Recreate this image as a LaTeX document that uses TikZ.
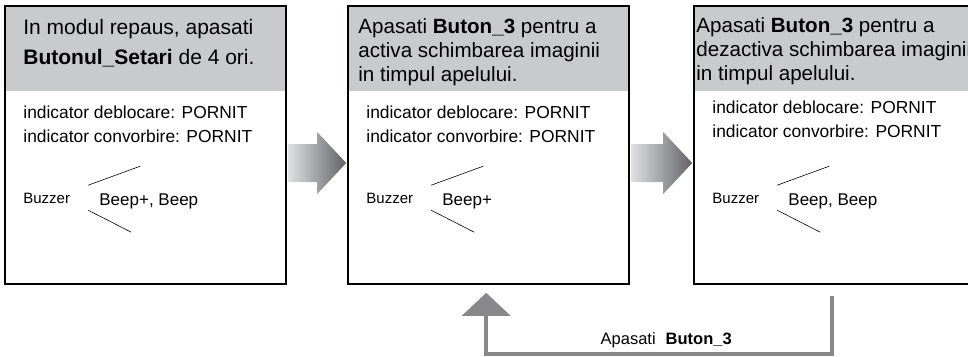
\documentclass[tikz,border=0pt]{standalone}
\usepackage{fontspec}
\setmainfont{Liberation Sans}
\usetikzlibrary{calc,arrows.meta}
\definecolor{hdrgray}{RGB}{200,202,204}
\definecolor{flowlight}{RGB}{224,225,227}
\definecolor{flowdark}{RGB}{98,98,102}
\definecolor{backgray}{RGB}{136,136,138}
\tikzset{
  panel/.style={draw=black, line width=1.6pt, minimum width=281pt, minimum height=278pt, inner sep=0pt,
    path picture={\fill[hdrgray] (path picture bounding box.north west) rectangle ([yshift=-85pt]path picture bounding box.north east);}},
  head/.style={anchor=north west, inner sep=0pt, align=left, font=\fontsize{20.6}{24}\selectfont},
  status/.style={anchor=north west, inner sep=0pt, align=left, font=\fontsize{17.4}{24}\selectfont},
  buzz/.style={anchor=base west, inner sep=0pt, font=\fontsize{15}{18}\selectfont},
  tone/.style={anchor=base west, inner sep=0pt, font=\fontsize{17}{20}\selectfont},
  flow/.style={left color=flowlight, right color=flowdark},
  back/.style={draw=backgray, line width=4pt, -{Triangle[width=48pt,length=23pt]}},
  hint/.style={anchor=base, inner sep=0pt, font=\fontsize{16.5}{19}\selectfont},
}
\begin{document}
\begin{tikzpicture}[x=1pt, y=-1pt]
\useasboundingbox (0,0) rectangle (968,356);
\clip (0,0) rectangle (968,356);
% the three panels
\node[panel] (p1) at (145.5,145) {};
\node[panel] (p2) at (488.5,145) {};
\node[panel] (p3) at (834.5,145) {};
% header texts
\node[head, font=\fontsize{21}{30}\selectfont] (h1) at ($(p1.north west)+(19,14)$) {In modul repaus, apasati\\\textbf{Butonul\_Setari} de 4 ori.};
\node[head] (h2) at ($(p2.north west)+(11,13)$) {Apasati \textbf{Buton\_3} pentru a\\activa schimbarea imaginii\\in timpul apelului.};
\node[head] (h3) at ($(p3.north west)+(3,12)$) {Apasati \textbf{Buton\_3} pentru a\\dezactiva schimbarea imaginii\\in timpul apelului.};
% indicators and buzzer
\foreach \p/\sy/\beep in {p1/100/{Beep+, Beep}, p2/100/{Beep+}, p3/95/{Beep, Beep}} {
  \node[status] (s\p) at ($(\p.north west)+(19,\sy)$) {indicator deblocare: PORNIT\\indicator convorbire: PORNIT};
  \node[buzz] (b\p) at ($(\p.north west)+(19,198)$) {Buzzer};
  \node[tone] (t\p) at ($(\p.north west)+(95,200)$) {\beep};
  \draw[line width=0.6pt] ($(\p.north west)+(84,180)$) -- ++(52,-19)
                          ($(\p.north west)+(84,205)$) -- ++(43,22);
}
% shaded arrows between panels
\coordinate (fy) at (0,163);
\foreach \a/\b in {p1/p2, p2/p3} {
  \coordinate (fs) at (\a.east |- fy);
  \coordinate (ft) at (\b.west |- fy);
  \shade[flow] ($(fs)+(1,-19)$) -- ($(ft)+(-30,-19)$) -- ($(ft)+(-30,-31)$) -- ($(ft)+(-1,0)$)
    -- ($(ft)+(-30,31)$) -- ($(ft)+(-30,19)$) -- ($(fs)+(1,19)$) -- cycle;
}
% way back
\coordinate (bf) at ($(p3.south west)+(139,11)$);
\coordinate (bt) at ($(p2.south west)+(139,8)$);
\draw[back] (bf) -- ++(0,58) -| (bt);
\node[hint] (lbl) at ($(bf)+(-166,49)$) {Apasati\hspace{10pt}\textbf{Buton\_3}};
\end{tikzpicture}
\end{document}
